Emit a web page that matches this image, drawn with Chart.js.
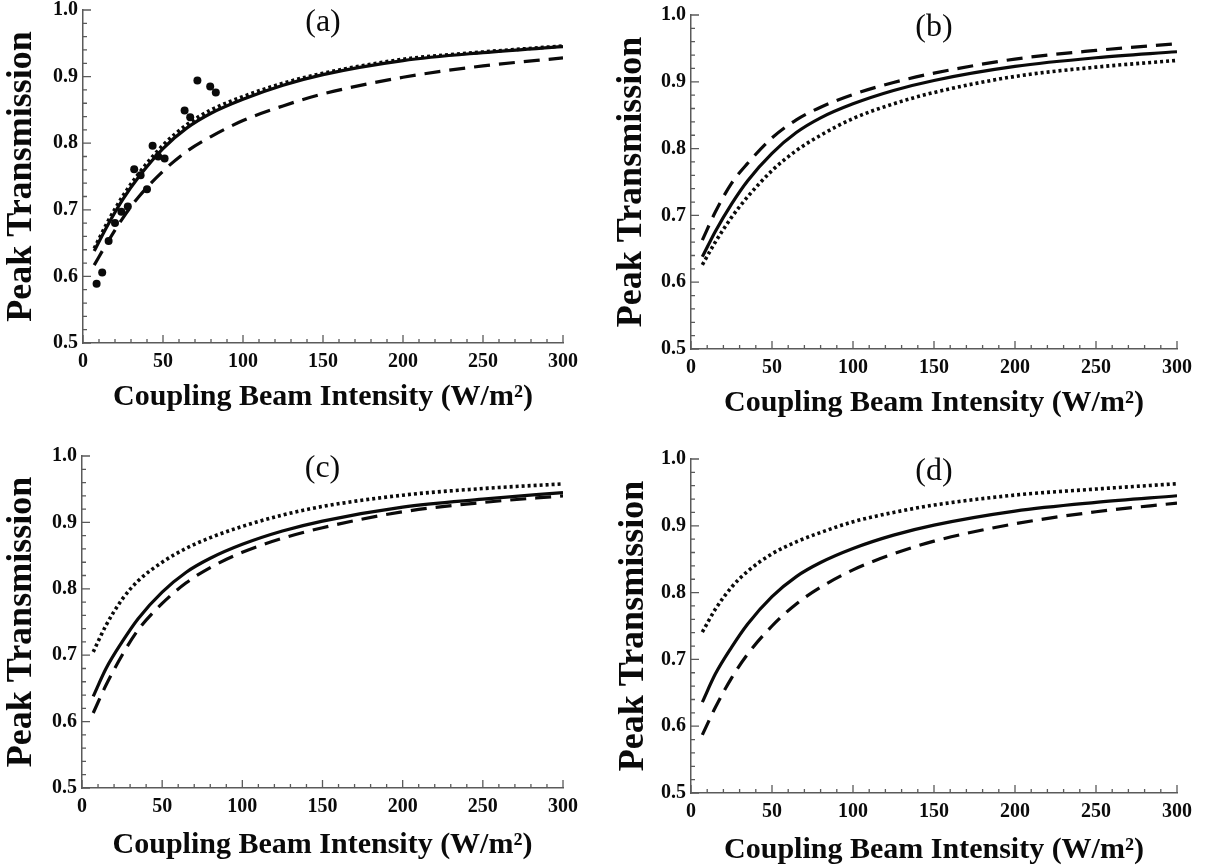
<!DOCTYPE html>
<html><head><meta charset="utf-8">
<script src="https://cdn.jsdelivr.net/npm/chart.js@4.4.1/dist/chart.umd.min.js"></script>
<style>
html,body{margin:0;padding:0;background:#fff;}
body{width:1216px;height:867px;position:relative;overflow:hidden;}
.p{position:absolute;}
canvas{display:block;}
</style></head><body>
<div class="p" style="left:0;top:0"><canvas id="ca" width="608" height="433"></canvas></div>
<div class="p" style="left:608px;top:0"><canvas id="cb" width="608" height="433"></canvas></div>
<div class="p" style="left:0;top:433px"><canvas id="cc" width="608" height="434"></canvas></div>
<div class="p" style="left:608px;top:433px"><canvas id="cd" width="608" height="434"></canvas></div>
<script>
// ---- data ----
const xValues = [7, 15, 25, 35, 50, 65, 80, 100, 125, 150, 200, 250, 300];

const aSolid  = [0.638, 0.675, 0.716, 0.750, 0.792, 0.823, 0.845, 0.866, 0.887, 0.903, 0.924, 0.936, 0.945];
const aDotted = [0.642, 0.680, 0.721, 0.755, 0.797, 0.828, 0.850, 0.870, 0.890, 0.905, 0.926, 0.937, 0.946];
const aDashed = [0.617, 0.650, 0.688, 0.720, 0.758, 0.788, 0.810, 0.834, 0.856, 0.874, 0.899, 0.916, 0.928];
const expX = [8.5, 12, 16, 20, 24, 28, 32, 36, 40, 43.5, 47, 51, 63.5, 67, 71.5, 79.5, 83];
const expY = [0.589, 0.606, 0.653, 0.680, 0.697, 0.705, 0.761, 0.752, 0.731, 0.796, 0.780, 0.777, 0.849, 0.839, 0.894, 0.885, 0.876];

const bSolid  = [0.638, 0.676, 0.717, 0.752, 0.793, 0.824, 0.846, 0.867, 0.887, 0.902, 0.923, 0.936, 0.945];
const bDashed = [0.663, 0.705, 0.748, 0.778, 0.816, 0.843, 0.862, 0.881, 0.899, 0.913, 0.934, 0.947, 0.957];
const bDotted = [0.626, 0.660, 0.697, 0.728, 0.767, 0.797, 0.820, 0.845, 0.867, 0.884, 0.908, 0.922, 0.932];

const cDotted = [0.705, 0.745, 0.784, 0.812, 0.840, 0.861, 0.877, 0.894, 0.911, 0.924, 0.941, 0.951, 0.958];
const cSolid  = [0.638, 0.680, 0.720, 0.755, 0.795, 0.825, 0.846, 0.867, 0.887, 0.902, 0.923, 0.935, 0.945];
const cDashed = [0.613, 0.655, 0.700, 0.738, 0.778, 0.809, 0.832, 0.855, 0.876, 0.892, 0.916, 0.930, 0.940];

const dDotted = [0.741, 0.775, 0.808, 0.832, 0.858, 0.876, 0.890, 0.906, 0.920, 0.931, 0.946, 0.955, 0.963];
const dSolid  = [0.636, 0.678, 0.718, 0.753, 0.794, 0.824, 0.845, 0.866, 0.886, 0.901, 0.922, 0.935, 0.945];
const dDashed = [0.587, 0.628, 0.672, 0.708, 0.750, 0.783, 0.808, 0.834, 0.858, 0.877, 0.903, 0.921, 0.934];

const xTickValues = [0, 50, 100, 150, 200, 250, 300];
const yTickValues = [0.5, 0.6, 0.7, 0.8, 0.9, 1.0];
const panelLabels = ['(a)', '(b)', '(c)', '(d)'];
const xTitle = 'Coupling Beam Intensity (W/m\u00B2)';
const yTitle = 'Peak Transmission';

// ---- styling ----
const SERIF = "'Liberation Serif', 'Times New Roman', serif";
const AXIS = '#5a5a5a';
const INK = '#0a0a0a';

function pts(xs, ys) { return xs.map((x, i) => ({x: x, y: ys[i]})); }

const STYLES = {
  solid:  {borderDash: [], borderWidth: 3.2, borderCapStyle: 'butt'},
  dashed: {borderDash: [16, 9], borderWidth: 3.2, borderCapStyle: 'butt'},
  dotted: {borderDash: [3, 3], borderWidth: 3.6, borderCapStyle: 'butt'}
};

function lineDs(ys, style) {
  return Object.assign({
    type: 'line', data: pts(xValues, ys), borderColor: INK, backgroundColor: INK,
    pointRadius: 0, fill: false, cubicInterpolationMode: 'monotone'
  }, STYLES[style]);
}

const innerTicks = {
  id: 'innerTicks',
  afterDraw(chart, args, opts) {
    const {ctx, chartArea: a} = chart;
    const x = chart.scales.x, y = chart.scales.y;
    ctx.save();
    ctx.strokeStyle = AXIS;
    ctx.lineWidth = 1.3;
    ctx.beginPath();
    for (let v = x.min; v <= x.max + 1e-9; v += 10) {
      const px = x.getPixelForValue(v);
      const len = (Math.round(v) % 50 === 0) ? 8 : 4;
      ctx.moveTo(px, a.bottom); ctx.lineTo(px, a.bottom - len);
    }
    for (let i = 0; i <= 25; i++) {
      const v = y.min + i * 0.02;
      const py = y.getPixelForValue(v);
      const len = (i % 5 === 0) ? 8 : 4;
      ctx.moveTo(a.left, py); ctx.lineTo(a.left + len, py);
    }
    ctx.stroke();
    ctx.fillStyle = INK;
    ctx.font = '32px ' + SERIF;
    ctx.textAlign = 'center';
    ctx.textBaseline = 'middle';
    ctx.fillText(opts.label, (a.left + a.right) / 2, a.top + opts.labelDy);
    ctx.restore();
  }
};

const PANELS = [
  {id: 'ca', w: 608, h: 433, l: 83, r: 563, t: 10, b: 343, yPad: 3.5, tOff: 54, label: panelLabels[0],
   ds: [lineDs(aSolid, 'solid'), lineDs(aDashed, 'dashed'), lineDs(aDotted, 'dotted'),
        {type: 'scatter', data: pts(expX, expY), pointRadius: 4, pointBackgroundColor: INK,
         pointBorderWidth: 0, showLine: false}]},
  {id: 'cb', w: 608, h: 433, l: 83, r: 569, t: 15, b: 349, yPad: 5.5, tOff: 54, label: panelLabels[1],
   ds: [lineDs(bSolid, 'solid'), lineDs(bDashed, 'dashed'), lineDs(bDotted, 'dotted')]},
  {id: 'cc', w: 608, h: 434, l: 82, r: 563, t: 23, b: 355, yPad: 3.5, tOff: 57, label: panelLabels[2],
   ds: [lineDs(cSolid, 'solid'), lineDs(cDashed, 'dashed'), lineDs(cDotted, 'dotted')]},
  {id: 'cd', w: 608, h: 434, l: 83, r: 569, t: 26, b: 360, yPad: 7.5, tOff: 57, label: panelLabels[3],
   ds: [lineDs(dSolid, 'solid'), lineDs(dDashed, 'dashed'), lineDs(dDotted, 'dotted')]}
];

const X_AXIS_H = 74;
const X_TITLE_SIZE = 30;

PANELS.forEach(p => {
  new Chart(document.getElementById(p.id), {
    data: {datasets: p.ds},
    options: {
      responsive: false, animation: false, devicePixelRatio: 1, events: [],
      layout: {padding: {left: 0, top: p.t, right: p.w - p.r, bottom: p.h - p.b - X_AXIS_H}},
      plugins: {legend: {display: false}, tooltip: {enabled: false},
                innerTicks: {label: p.label, labelDy: 13}},
      scales: {
        x: {
          type: 'linear', min: 0, max: 300,
          afterBuildTicks: s => { s.ticks = xTickValues.map(v => ({value: v})); },
          afterFit: s => { s.height = X_AXIS_H; s.paddingLeft = 0; s.paddingRight = 0; },
          grid: {display: false, drawTicks: false},
          border: {display: true, color: AXIS, width: 1.5},
          ticks: {color: INK, padding: 7, maxRotation: 0, autoSkip: false,
                  font: {family: SERIF, size: 20, weight: 'bold', lineHeight: 1.2},
                  callback: v => String(v)},
          title: {display: true, text: xTitle, color: INK,
                  padding: {top: 0, bottom: X_AXIS_H - p.tOff - X_TITLE_SIZE / 2},
                  font: {family: SERIF, size: X_TITLE_SIZE, weight: 'bold', lineHeight: 1}}
        },
        y: {
          type: 'linear', min: 0.5, max: 1.0,
          afterBuildTicks: s => { s.ticks = yTickValues.map(v => ({value: v})); },
          afterFit: s => { s.width = p.l; s.paddingTop = 0; s.paddingBottom = 0; },
          grid: {display: false, drawTicks: false},
          border: {display: true, color: AXIS, width: 1.5},
          ticks: {color: INK, padding: 5, autoSkip: false,
                  font: {family: SERIF, size: 20, weight: 'bold', lineHeight: 1.2},
                  callback: v => Number(v).toFixed(1)},
          title: {display: true, text: yTitle, color: INK, padding: {top: p.yPad, bottom: 0},
                  font: {family: SERIF, size: 36, weight: 'bold', lineHeight: 1}}
        }
      }
    },
    plugins: [innerTicks]
  });
});
</script>
</body></html>
